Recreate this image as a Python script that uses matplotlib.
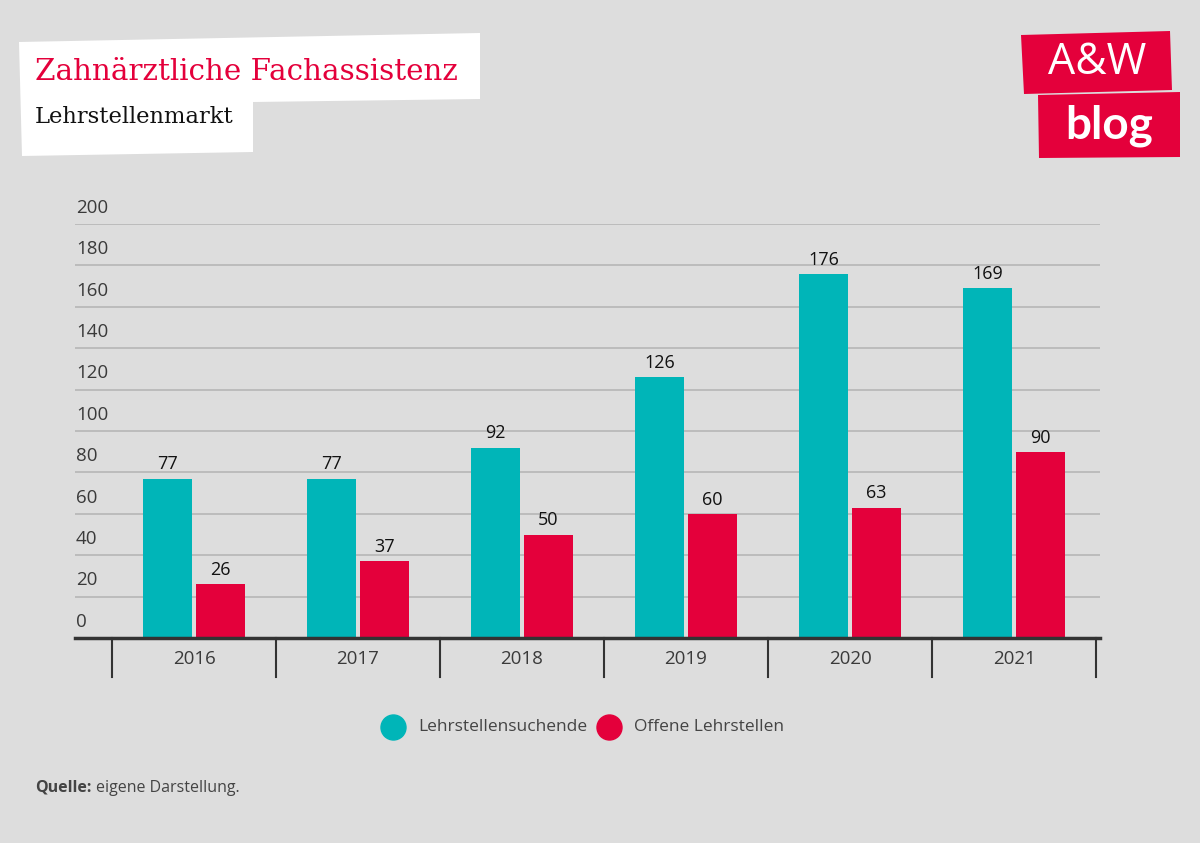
import numpy as np
import matplotlib.pyplot as plt
from matplotlib.patches import Polygon
from matplotlib.lines import Line2D

years = ["2016", "2017", "2018", "2019", "2020", "2021"]
suchende = [77, 77, 92, 126, 176, 169]
offene = [26, 37, 50, 60, 63, 90]
series_names = ["Lehrstellensuchende", "Offene Lehrstellen"]

TEAL = "#00B5B8"
RED = "#E4003B"
BG = "#DDDDDD"
GRID = "#B9B9B9"
TXT = "#3A3A3A"

plt.rcParams["font.family"] = ["Open Sans", "DejaVu Sans"]

fig = plt.figure(figsize=(12, 8.43), dpi=100)
fig.patch.set_facecolor(BG)

W, H = 1200, 843


def fx(px):
    return px / W


def fy(py):
    return 1 - py / H


ax = fig.add_axes([fx(75), fy(638), fx(1100) - fx(75), fy(224) - fy(638)])
ax.set_facecolor(BG)

x = np.arange(len(years))
bw = 0.30
gap = 0.01
b1 = ax.bar(x - bw / 2 - gap, suchende, bw, color=TEAL, zorder=3)
b2 = ax.bar(x + bw / 2 + gap, offene, bw, color=RED, zorder=3)

for bars, vals in ((b1, suchende), (b2, offene)):
    for r, v in zip(bars, vals):
        ax.text(r.get_x() + r.get_width() / 2, v + 2.5, str(v),
                ha="center", va="bottom", fontsize=13, color="#111111")

ax.set_xlim(-0.5 - 37 / 164, 5.5 + 4 / 164)
ax.set_ylim(0, 200)

for t in range(20, 201, 20):
    ax.axhline(t, color=GRID, lw=1.3, zorder=1)
for t in range(0, 201, 20):
    ax.text(ax.get_xlim()[0] + 0.005, t + 3.5, str(t), ha="left", va="bottom",
            fontsize=13.5, color=TXT)

for s in ax.spines.values():
    s.set_visible(False)
ax.axhline(0, color="#333333", lw=2.5, zorder=4, clip_on=False)
ax.set_xticks([])
ax.set_yticks([])

# category separators below the axis
for b in np.arange(-0.5, 6, 1.0):
    ax.plot([b, b], [0, -19], color="#333333", lw=1.5, clip_on=False, zorder=4)
for i, yl in enumerate(years):
    ax.text(i, -10, yl, ha="center", va="center", fontsize=13.5, color=TXT)

# legend
for cx, col, name in ((393, TEAL, series_names[0]), (609, RED, series_names[1])):
    fig.add_artist(Line2D([fx(cx)], [fy(727)], transform=fig.transFigure,
                          marker="o", markersize=18, color=col, lw=0))
    fig.text(fx(cx + 25), fy(727), name, ha="left", va="center",
             fontsize=12.5, color="#444444")

# source
q = fig.text(fx(35), fy(788), "Quelle:", ha="left", va="center", fontsize=11.5,
             fontweight="bold", color="#444444")
fig.canvas.draw()
qx1 = q.get_window_extent().x1
fig.text(qx1 / W + fx(5), fy(788), "eigene Darstellung.", ha="left", va="center",
         fontsize=11.5, color="#444444")

# title box
box = [(19, 42), (480, 33), (480, 99), (253, 102), (253, 152), (22, 156)]
fig.patches.append(Polygon([(fx(a), fy(b)) for a, b in box], closed=True,
                           transform=fig.transFigure, facecolor="white",
                           edgecolor="none"))
fig.text(fx(35), fy(72), "Zahnärztliche Fachassistenz", ha="left", va="center",
         fontsize=21.2, color=RED, family=["DejaVu Serif"])
fig.text(fx(35), fy(117), "Lehrstellenmarkt", ha="left", va="center",
         fontsize=16.3, color="#111111", family=["DejaVu Serif"])

# logo
logo1 = [(1021, 35), (1170, 31), (1172, 90), (1024, 94)]
logo2 = [(1038, 95), (1180, 92), (1180, 157), (1039, 158)]
for poly in (logo1, logo2):
    fig.patches.append(Polygon([(fx(a), fy(b)) for a, b in poly], closed=True,
                               transform=fig.transFigure, facecolor=RED,
                               edgecolor="none"))
fig.text(fx(1097), fy(63), "A&W", ha="center", va="center", fontsize=31,
         color="white", family=["Open Sans"], fontweight="normal")
fig.text(fx(1109), fy(126), "blog", ha="center", va="center", fontsize=33,
         color="white", fontweight="bold", family=["Lato"])

fig.savefig("out.png", dpi=100, facecolor=BG)
